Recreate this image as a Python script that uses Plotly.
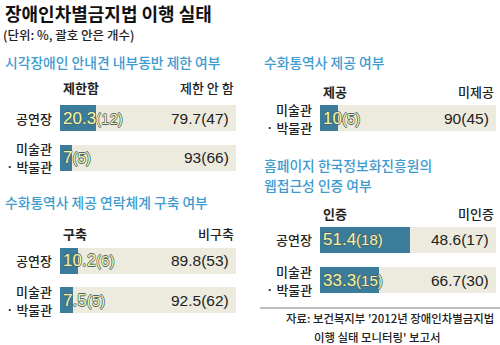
import plotly.graph_objects as go

# ---- data ----
rows_two = ["공연장", "미술관<br>· 박물관"]
rows_one = ["미술관<br>· 박물관"]

guide_dog_yes = [20.3, 7]
guide_dog_yes_n = [12, 5]
guide_dog_no = [79.7, 93]
guide_dog_no_n = [47, 66]

contact_yes = [10.2, 7.5]
contact_yes_n = [6, 5]
contact_no = [89.8, 92.5]
contact_no_n = [53, 62]

interp_yes = [10]
interp_yes_n = [5]
interp_no = [90]
interp_no_n = [45]

web_yes = [51.4, 33.3]
web_yes_n = [18, 15]
web_no = [48.6, 66.7]
web_no_n = [17, 30]

W, H = 500, 345
FONT = "Noto Sans CJK KR"
NUMFONT = "Liberation Sans Narrow, Liberation Sans, Arial"
DARK = "#3a7c99"
LIGHT = "#ecebde"
YELLOW = "#f1f5a3"
BLUE = "#3d9bd0"
TEXT = "#222222"


def px(x):
    return x / W


def py(y):
    return 1 - y / H


panels = [
    dict(title=["시각장애인 안내견 내부동반 제한 여부"], heads=("제한함", "제한 안 함"),
         cats=rows_two, yes=guide_dog_yes, yes_n=guide_dog_yes_n,
         no=guide_dog_no, no_n=guide_dog_no_n),
    dict(title=["수화통역사 제공 연락체계 구축 여부"], heads=("구축", "비구축"),
         cats=rows_two, yes=contact_yes, yes_n=contact_yes_n,
         no=contact_no, no_n=contact_no_n),
    dict(title=["수화통역사 제공 여부"], heads=("제공", "미제공"),
         cats=rows_one, yes=interp_yes, yes_n=interp_yes_n,
         no=interp_no, no_n=interp_no_n),
    dict(title=["홈페이지 한국정보화진흥원의", "웹접근성 인증 여부"], heads=("인증", "미인증"),
         cats=rows_two, yes=web_yes, yes_n=web_yes_n,
         no=web_no, no_n=web_no_n),
]

# pixel geometry of each panel: bar x-extent, plot y-extent, title y, header y
geom = [
    dict(x0=60, x1=236, y0=98.5, y1=177.5, ty=62, hy=87, tx=3),
    dict(x0=60, x1=236, y0=241, y1=320, ty=202, hy=233, tx=3),
    dict(x0=320, x1=496, y0=98.5, y1=137.5, ty=62, hy=91, tx=262),
    dict(x0=320, x1=496, y0=220, y1=300, ty=165, hy=213, tx=262),
]

fig = go.Figure()
annotations = []
edge = "#4d6470"
outline = ", ".join(f"{dx}px {dy}px 0 {edge}" for dx, dy in
                    [(-0.7, 0), (0.7, 0), (0, -0.7), (0, 0.7)])
cat_font = dict(family=FONT, size=13, color=TEXT, weight=500)

for i, (p, g) in enumerate(zip(panels, geom)):
    k = "" if i == 0 else str(i + 1)
    xa, ya = "x" + k, "y" + k
    fig.add_trace(go.Bar(y=p["cats"], x=p["yes"], orientation="h",
                         marker=dict(color=DARK, line_width=0),
                         xaxis=xa, yaxis=ya, hoverinfo="skip", showlegend=False))
    fig.add_trace(go.Bar(y=p["cats"], x=p["no"], orientation="h",
                         marker=dict(color=LIGHT, line_width=0),
                         xaxis=xa, yaxis=ya, hoverinfo="skip", showlegend=False))
    n = len(p["cats"])
    fig.update_layout(**{
        "xaxis" + k: dict(domain=[px(g["x0"]), px(g["x1"])], range=[0, 100],
                          visible=False, fixedrange=True, anchor=ya),
        "yaxis" + k: dict(domain=[py(g["y1"]), py(g["y0"])],
                          categoryorder="array", categoryarray=p["cats"][::-1],
                          range=[-0.5, n - 0.5], anchor=xa,
                          showgrid=False, zeroline=False, showline=False,
                          ticks="", showticklabels=False),
    })
    # row labels, one text per line, right-aligned against the bar
    for c in p["cats"]:
        lines = c.split("<br>")
        for j, line in enumerate(lines):
            off = (len(lines) - 1) / 2 - j
            annotations.append(dict(text=line, x=0, y=c, xref=xa, yref=ya,
                                    xanchor="right", yanchor="middle",
                                    xshift=-6, yshift=off * 18,
                                    showarrow=False, font=cat_font))
    # panel title (one text per line, 20 px apart)
    for j, line in enumerate(p["title"]):
        annotations.append(dict(text=line, x=px(g["tx"]), y=py(g["ty"] + 20 * j),
                                xref="paper", yref="paper", xanchor="left",
                                yanchor="middle", showarrow=False,
                                font=dict(family=FONT, size=13.8, color=BLUE,
                                          weight=500)))
    # column headers
    annotations.append(dict(text="<b>%s</b>" % p["heads"][0], x=0, y=py(g["hy"]),
                            xref=xa, yref="paper", xanchor="left", xshift=1,
                            yanchor="middle", showarrow=False,
                            font=dict(family=FONT, size=13, color=TEXT)))
    annotations.append(dict(text=p["heads"][1], x=100, y=py(g["hy"]),
                            xref=xa, yref="paper", xanchor="right",
                            yanchor="middle", showarrow=False,
                            font=dict(family=FONT, size=13, color=TEXT,
                                      weight=500)))
    # value labels
    for c, v, vn, w, wn in zip(p["cats"], p["yes"], p["yes_n"], p["no"], p["no_n"]):
        annotations.append(dict(
            text="<span style='font-size:17px'>%g</span>(%d)" % (v, vn),
            x=0, y=c, xref=xa, yref=ya, xanchor="left", xshift=1,
            yanchor="middle", showarrow=False,
            font=dict(family=NUMFONT, size=15, color=YELLOW, shadow=outline)))
        annotations.append(dict(
            text="%g(%d)" % (w, wn),
            x=100, y=c, xref=xa, yref=ya, xanchor="right", xshift=-5,
            yanchor="middle", showarrow=False,
            font=dict(family=NUMFONT, size=15.5, color=TEXT)))

# header block
annotations += [
    dict(text="<b>장애인차별금지법 이행 실태</b>", x=px(4), y=py(13),
         xref="paper", yref="paper", xanchor="left", yanchor="middle",
         borderpad=0, showarrow=False,
         font=dict(family=FONT, size=18, color="#111111")),
    dict(text="(단위: %, 괄호 안은 개수)", x=px(2), y=py(34.5),
         xref="paper", yref="paper", xanchor="left", yanchor="middle",
         borderpad=0, showarrow=False,
         font=dict(family=FONT, size=12.5, color=TEXT, weight=500)),
    dict(text="자료: 보건복지부 '2012년 장애인차별금지법", x=px(284), y=py(318),
         xref="paper", yref="paper", xanchor="left", yanchor="middle",
         showarrow=False, font=dict(family=FONT, size=11.4, color=TEXT,
                                    weight=500)),
    dict(text="이행 실태 모니터링' 보고서", x=px(312), y=py(337),
         xref="paper", yref="paper", xanchor="left", yanchor="middle",
         showarrow=False, font=dict(family=FONT, size=11.4, color=TEXT,
                                    weight=500)),
]

fig.update_layout(
    width=W, height=H, margin=dict(l=0, r=0, t=0, b=0),
    paper_bgcolor="white", plot_bgcolor="rgba(0,0,0,0)",
    barmode="stack", bargap=0.35,
    annotations=annotations,
    shapes=[dict(type="line", xref="paper", yref="paper",
                 x0=px(260), x1=1, y0=py(308), y1=py(308),
                 line=dict(color="#bdbdbd", width=2))],
)

fig.write_html("out.html")
